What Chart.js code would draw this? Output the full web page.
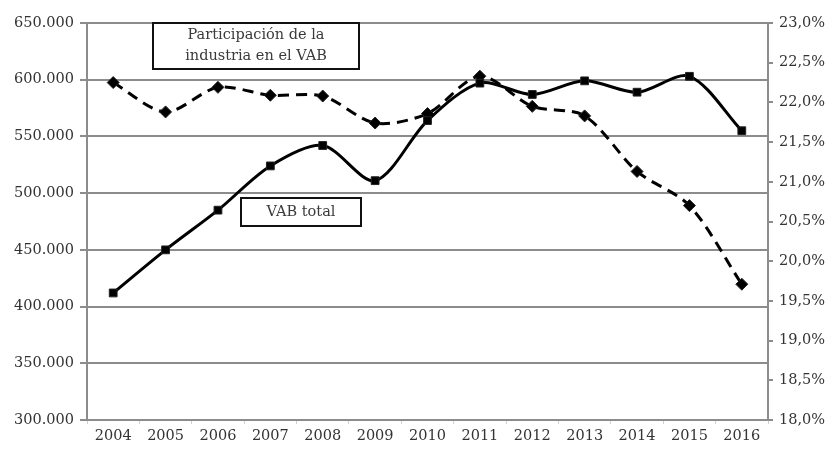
<!DOCTYPE html>
<html>
<head>
<meta charset="utf-8">
<script src="https://cdn.jsdelivr.net/npm/chart.js@4"></script>
<style>
  html, body { margin: 0; padding: 0; background: #fff; }
  #wrap { width: 831px; height: 451px; }
</style>
</head>
<body>
<div id="wrap"><canvas id="c" width="831" height="451"></canvas></div>
<script>
// Years on the horizontal axis
const years = ['2004','2005','2006','2007','2008','2009','2010','2011','2012','2013','2014','2015','2016'];
// Gross value added, total (left axis)
const vabTotal = [412000, 450000, 485000, 524000, 542000, 511000, 564000, 597000, 587000, 599000, 589000, 603000, 555000];
// Share of industry in GVA, percent (right axis)
const industryShare = [22.25, 21.88, 22.19, 22.09, 22.08, 21.74, 21.86, 22.33, 21.95, 21.83, 21.13, 20.70, 19.71];
// Axis ranges
const leftMin = 300000, leftMax = 650000, leftStep = 50000;
const rightMin = 18, rightMax = 23, rightStep = 0.5;

const serif = "'DejaVu Serif', 'Liberation Serif', serif";
const gridGrey = '#8c8c8c';

function fmtThousands(v) {
  return Math.round(v).toString().replace(/\B(?=(\d{3})+(?!\d))/g, '.');
}
function fmtPct(v) {
  return v.toFixed(1).replace('.', ',') + '%';
}

// Text boxes naming each series
const seriesLabels = {
  id: 'seriesLabels',
  afterDatasetsDraw(chart) {
    const { ctx, chartArea: a } = chart;
    const boxes = [
      { x: a.left + 66, y: a.top, w: 206, h: 46, lines: ['Participación de la', 'industria en el VAB'] },
      { x: a.left + 154, y: a.top + 175, w: 120, h: 28, lines: ['VAB total'] }
    ];
    ctx.save();
    boxes.forEach(b => {
      ctx.fillStyle = '#fff';
      ctx.fillRect(b.x, b.y, b.w, b.h);
      ctx.strokeStyle = '#111';
      ctx.lineWidth = 2;
      ctx.strokeRect(b.x, b.y, b.w, b.h);
      ctx.fillStyle = '#3a3a3a';
      ctx.font = '14.5px ' + serif;
      ctx.textAlign = 'center';
      ctx.textBaseline = 'middle';
      const lh = 21;
      const startY = b.y + b.h / 2 - (b.lines.length - 1) * lh / 2;
      b.lines.forEach((t, i) => ctx.fillText(t, b.x + b.w / 2, startY + i * lh));
    });
    ctx.restore();
  }
};

new Chart(document.getElementById('c'), {
  type: 'line',
  data: {
    labels: years,
    datasets: [
      {
        label: 'VAB total',
        data: vabTotal,
        yAxisID: 'y',
        borderColor: '#000',
        backgroundColor: '#000',
        borderWidth: 3,
        tension: 0.3,
        pointStyle: 'rect',
        pointRadius: 5.5,
        pointBorderWidth: 1,
        pointBorderColor: '#222'
      },
      {
        label: 'Participación de la industria en el VAB',
        data: industryShare,
        yAxisID: 'y1',
        borderColor: '#000',
        backgroundColor: '#000',
        borderWidth: 3,
        borderDash: [11, 7],
        tension: 0.3,
        pointStyle: 'rectRot',
        pointRadius: 6,
        pointBorderWidth: 1,
        pointBorderColor: '#222'
      }
    ]
  },
  options: {
    responsive: false,
    animation: false,
    devicePixelRatio: 1,
    layout: { padding: { top: 23, left: 0, right: 0, bottom: 0 } },
    plugins: {
      legend: { display: false },
      tooltip: { enabled: false }
    },
    scales: {
      x: {
        offset: true,
        grid: {
          offset: true,
          drawOnChartArea: false,
          drawTicks: true,
          tickLength: 4,
          tickColor: '#d0d0d0'
        },
        border: { color: gridGrey, width: 2 },
        ticks: {
          color: '#333',
          font: { family: serif, size: 14.5 },
          padding: 4,
          maxRotation: 0,
          autoSkip: false
        },
        afterFit(s) { s.height = 31; }
      },
      y: {
        position: 'left',
        min: leftMin,
        max: leftMax,
        grid: {
          color: gridGrey,
          lineWidth: 2,
          drawTicks: true,
          tickLength: 7
        },
        border: { color: gridGrey, width: 2 },
        ticks: {
          stepSize: leftStep,
          color: '#333',
          font: { family: serif, size: 14.5 },
          padding: 6,
          callback: v => fmtThousands(v)
        },
        afterFit(s) { s.width = 87; }
      },
      y1: {
        position: 'right',
        min: rightMin,
        max: rightMax,
        grid: {
          drawOnChartArea: false,
          color: gridGrey,
          lineWidth: 2,
          drawTicks: true,
          tickLength: 5
        },
        border: { color: gridGrey, width: 2 },
        ticks: {
          stepSize: rightStep,
          color: '#333',
          font: { family: serif, size: 14.5 },
          padding: 6,
          callback: v => fmtPct(v)
        },
        afterFit(s) { s.width = 63; }
      }
    }
  },
  plugins: [seriesLabels]
});
</script>
</body>
</html>
